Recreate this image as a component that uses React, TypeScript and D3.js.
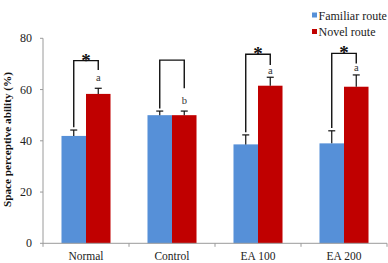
import React from "react";
import * as d3 from "d3";

const categories = ["Normal", "Control", "EA 100", "EA 200"];
const seriesNames = ["Familiar route", "Novel route"];
const familiar = [41.9, 50.0, 38.6, 39.0];
const familiarErr = [2.3, 1.6, 3.7, 4.9];
const novel = [58.3, 50.0, 61.5, 61.1];
const novelErr = [2.2, 1.6, 3.3, 4.6];
const yTicks = [0, 20, 40, 60, 80];
// bracket: top value, right-end value
const bracketTop = [71.3, 71.5, 73.8, 74.1];
const bracketRight = [67.6, 60.5, 69.6, 70.2];
const starShown = [true, false, true, true];
const letters = ["a", "b", "a", "a"];
const letterVal = [64.5, 56.0, 67.0, 68.3];

const W = 388;
const H = 263;
const BLUE = "#5690D8";
const RED = "#C00000";
const AXIS = "#9a9a9a";
const FONT = "Liberation Serif, Times New Roman, Times, DejaVu Serif, serif";

export default function App() {
  const y = d3.scaleLinear().domain([0, 80]).range([243.3, 38.3]);
  const x0 = d3
    .scaleBand<string>()
    .domain(categories)
    .range([43, 387])
    .paddingInner(0.43)
    .paddingOuter(0.215);
  const x1 = d3
    .scaleBand<string>()
    .domain(seriesNames)
    .range([0, x0.bandwidth()]);
  const values = [familiar, novel];
  const errs = [familiarErr, novelErr];
  const colors = [BLUE, RED];
  const step = x0.step();
  const boundaries = d3.range(categories.length + 1).map((i) => 43 + i * step);
  const ts = { fontFamily: FONT };

  return (
    <svg width={W} height={H} style={{ position: "absolute", left: 0, top: 0, fontFamily: FONT }}>
      <rect width={W} height={H} fill="#fff" />
      {/* bars */}
      {categories.map((c, i) =>
        seriesNames.map((s, j) => {
          const v = values[j][i];
          const bx = (x0(c) as number) + (x1(s) as number);
          return (
            <rect
              key={c + s}
              x={bx}
              y={y(v)}
              width={x1.bandwidth()}
              height={y(0) - y(v)}
              fill={colors[j]}
            />
          );
        })
      )}
      {/* error bars */}
      {categories.map((c, i) =>
        seriesNames.map((s, j) => {
          const v = values[j][i];
          const e = errs[j][i];
          const cx = (x0(c) as number) + (x1(s) as number) + x1.bandwidth() / 2;
          return (
            <g key={"e" + c + s} stroke="#111" strokeWidth={1.2}>
              <line x1={cx} x2={cx} y1={y(v)} y2={y(v + e)} />
              <line x1={cx - 3.5} x2={cx + 3.5} y1={y(v + e)} y2={y(v + e)} />
            </g>
          );
        })
      )}
      {/* brackets */}
      {categories.map((c, i) => {
        const lx = (x0(c) as number) + (x1(seriesNames[0]) as number) + x1.bandwidth() / 2;
        const rx = (x0(c) as number) + (x1(seriesNames[1]) as number) + x1.bandwidth() / 2;
        const leftEnd = y(familiar[i] + familiarErr[i]) - 2.7;
        const top = y(bracketTop[i]);
        const right = y(bracketRight[i]);
        return (
          <g key={"b" + c}>
            <path
              d={`M${lx},${leftEnd}V${top}H${rx}V${right}`}
              fill="none"
              stroke="#111"
              strokeWidth={1.4}
            />
            {starShown[i] && (
              <text
                x={(lx + rx) / 2}
                y={top + 6}
                textAnchor="middle"
                fontSize={19}
                fontWeight="bold"
                fill="#111"
                style={ts}
              >
                *
              </text>
            )}
            <text
              x={rx}
              y={y(letterVal[i]) + (letters[i] === "b" ? 3.8 : 2.5)}
              textAnchor="middle"
              fontSize={10.5}
              fill="#333"
              style={ts}
            >
              {letters[i]}
            </text>
          </g>
        );
      })}
      {/* y axis */}
      <line x1={43} x2={43} y1={y(80)} y2={y(0)} stroke={AXIS} strokeWidth={1} />
      {yTicks.map((t) => (
        <g key={"yt" + t}>
          <line x1={40} x2={43} y1={y(t)} y2={y(t)} stroke={AXIS} strokeWidth={1} />
          <text x={32} y={y(t) + 4} textAnchor="end" fontSize={12} fill="#222" style={ts}>
            {t}
          </text>
        </g>
      ))}
      {/* x axis */}
      <line x1={43} x2={387} y1={y(0)} y2={y(0)} stroke={AXIS} strokeWidth={1} />
      {boundaries.map((b, i) => (
        <line key={"xt" + i} x1={b} x2={b} y1={y(0)} y2={y(0) + 3.5} stroke={AXIS} strokeWidth={1} />
      ))}
      {categories.map((c) => (
        <text
          key={"xl" + c}
          x={(x0(c) as number) + x0.bandwidth() / 2}
          y={260}
          textAnchor="middle"
          fontSize={11.5}
          fill="#222"
          style={ts}
        >
          {c}
        </text>
      ))}
      {/* y title */}
      <text
        transform={`translate(10.5,${139.5}) rotate(-90)`}
        textAnchor="middle"
        fontSize={11.2}
        fontWeight="bold"
        fill="#111"
        style={ts}
      >
        Space perceptive ability (%)
      </text>
      {/* legend */}
      {seriesNames.map((s, j) => (
        <g key={"lg" + s} transform={`translate(312,${12.5 + j * 16.5})`}>
          <rect x={0} y={0} width={5} height={5} fill={colors[j]} />
          <text x={6.5} y={7} fontSize={12} fill="#222" style={ts}>
            {s}
          </text>
        </g>
      ))}
    </svg>
  );
}
